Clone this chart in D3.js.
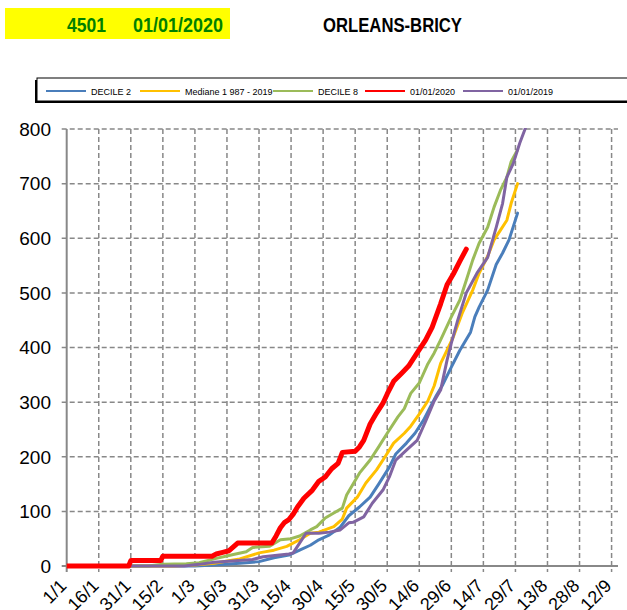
<!DOCTYPE html>
<html>
<head>
<meta charset="utf-8">
<script src="https://cdn.jsdelivr.net/npm/d3@7"></script>
<style>
  body { margin: 0; background: #fff; }
  svg { display: block; font-family: "Liberation Sans", Arial, sans-serif; }
</style>
</head>
<body>
<div id="chart"></div>
<script>
// Station header
var stationId = '4501';
var startDate = '01/01/2020';
var stationName = 'ORLEANS-BRICY';

// X ticks: days since 1/1/2020, every 15 days
var tickDays = [0, 15, 30, 45, 60, 75, 90, 105, 120, 135, 150, 165, 180, 195, 210, 225, 240, 255];
var tickLabels = ['1/1', '16/1', '31/1', '15/2', '1/3', '16/3', '31/3', '15/4', '30/4',
  '15/5', '30/5', '14/6', '29/6', '14/7', '29/7', '13/8', '28/8', '12/9'];
var yTicks = [0, 100, 200, 300, 400, 500, 600, 700, 800];

// Series as [day, cumulative value]
var decile2 = [[0, 0], [60, 0], [69, 2], [81, 5], [90, 8], [97, 15], [104, 20], [109, 29],
  [114, 38], [118, 48], [123, 57], [128, 71], [132, 92], [137, 108], [142, 126], [146, 150],
  [151, 181], [154, 205], [159, 225], [163, 243], [167, 267], [170, 290], [173, 312],
  [176, 332], [180, 364], [184, 395], [189, 428], [191, 456], [193, 474], [197, 505],
  [201, 552], [204, 573], [207, 597], [211, 646]];
var mediane = [[0, 0], [50, 0], [60, 2], [69, 5], [78, 11], [81, 13], [90, 24], [97, 29],
  [103, 36], [109, 48], [114, 60], [118, 62], [125, 72], [129, 86], [131, 106], [136, 126],
  [140, 152], [145, 176], [149, 200], [153, 225], [158, 243], [161, 256], [165, 278],
  [169, 302], [172, 330], [175, 371], [178, 395], [181, 420], [185, 462], [190, 505],
  [193, 536], [197, 567], [200, 597], [203, 615], [206, 633], [208, 664], [211, 700]];
var decile8 = [[0, 0], [38, 0], [45, 3], [56, 4], [62, 6], [69, 13], [78, 21], [84, 26],
  [87, 34], [95, 36], [100, 48], [105, 50], [109, 55], [114, 66], [117, 72], [121, 88],
  [125, 97], [129, 106], [131, 130], [137, 170], [142, 194], [146, 218], [150, 243],
  [155, 273], [158, 288], [161, 316], [165, 335], [169, 370], [172, 390], [175, 414],
  [180, 456], [184, 487], [187, 523], [190, 560], [193, 591], [197, 620], [200, 657],
  [203, 688], [206, 712], [208, 740], [211, 762]];
var year2020 = [[0, 0], [29, 0], [30, 10], [44, 10], [45, 18], [68, 18], [70, 22], [73, 25],
  [76, 28], [78, 35], [80, 42], [96, 42], [98, 55], [100, 70], [102, 80], [104, 85],
  [106, 95], [108, 108], [111, 124], [115, 139], [118, 155], [121, 163], [124, 178],
  [127, 188], [129, 208], [135, 210], [137, 218], [139, 230], [142, 260], [145, 280],
  [148, 298], [150, 315], [153, 338], [157, 354], [160, 366], [164, 390], [168, 414],
  [171, 437], [175, 480], [178, 515], [181, 535], [184, 558], [187, 580]];
var year2019 = [[0, 0], [55, 0], [62, 3], [69, 7], [87, 12], [92, 17], [104, 22], [106, 24],
  [109, 42], [112, 60], [118, 60], [123, 62], [128, 66], [132, 79], [134, 80], [139, 90],
  [143, 115], [148, 139], [151, 163], [154, 194], [159, 212], [164, 230], [168, 265],
  [172, 302], [175, 322], [178, 377], [180, 408], [183, 450], [187, 500], [192, 536],
  [197, 565], [201, 620], [204, 664], [206, 712], [209, 737], [212, 774], [215, 805], [217, 830]];

var series = [
  { name: 'DECILE 2', color: '#4a7ebb', width: 3, data: decile2 },
  { name: 'Mediane 1 987 - 2019', color: '#ffc000', width: 3, data: mediane },
  { name: 'DECILE 8', color: '#9bbb59', width: 3, data: decile8 },
  { name: '01/01/2020', color: '#ff0000', width: 5, data: year2020 },
  { name: '01/01/2019', color: '#8064a2', width: 3, data: year2019 }
];
// drawing order: red on top
var drawOrder = [0, 1, 2, 4, 3];

var width = 627;
var height = 610;
var margin = { top: 129, right: 9, bottom: 44, left: 66.7 };

var svg = d3.select('#chart').append('svg')
  .attr('width', width)
  .attr('height', height);

var x = d3.scaleLinear().domain([0, 258]).range([margin.left, width - margin.right]);
var y = d3.scaleLinear().domain([0, 800]).range([height - margin.bottom, margin.top]);

// Header
svg.append('rect')
  .attr('x', 5).attr('y', 8).attr('width', 225).attr('height', 31)
  .attr('fill', '#ffff00');
svg.append('text')
  .attr('x', 67).attr('y', 31.5)
  .attr('textLength', 39).attr('lengthAdjust', 'spacingAndGlyphs')
  .attr('fill', '#008000').attr('font-weight', 'bold').attr('font-size', 20)
  .text(stationId);
svg.append('text')
  .attr('x', 133).attr('y', 31.5)
  .attr('textLength', 90).attr('lengthAdjust', 'spacingAndGlyphs')
  .attr('fill', '#008000').attr('font-weight', 'bold').attr('font-size', 20)
  .text(startDate);
svg.append('text')
  .attr('x', 323).attr('y', 31.5)
  .attr('textLength', 139).attr('lengthAdjust', 'spacingAndGlyphs')
  .attr('fill', '#000').attr('font-weight', 'bold').attr('font-size', 20)
  .text(stationName);

// Legend box with shadow
var legend = svg.append('g');
legend.append('rect')
  .attr('x', 35).attr('y', 80).attr('width', 600).attr('height', 23)
  .attr('fill', '#000');
legend.append('rect')
  .attr('x', 37).attr('y', 78).attr('width', 600).attr('height', 23)
  .attr('fill', '#fff').attr('stroke', '#000').attr('stroke-width', 1);
var legendX = [46, 140, 273, 365, 463];
series.forEach(function (s, i) {
  legend.append('line')
    .attr('x1', legendX[i]).attr('x2', legendX[i] + 40)
    .attr('y1', 91).attr('y2', 91)
    .attr('stroke', s.color).attr('stroke-width', 2);
  legend.append('text')
    .attr('x', legendX[i] + 45).attr('y', 94.5)
    .attr('font-size', 9).attr('fill', '#000')
    .text(s.name);
});

// Grid
var grid = svg.append('g')
  .attr('stroke', '#888').attr('stroke-width', 1.5).attr('stroke-dasharray', '5,3');
grid.selectAll('.hgrid').data(yTicks.slice(1)).enter().append('line')
  .attr('x1', x(0) - 5).attr('x2', x.range()[1])
  .attr('y1', function (d) { return y(d); })
  .attr('y2', function (d) { return y(d); });
grid.selectAll('.vgrid').data(tickDays.slice(1)).enter().append('line')
  .attr('x1', function (d) { return x(d); })
  .attr('x2', function (d) { return x(d); })
  .attr('y1', y(800)).attr('y2', y(0) + 6);

// Axes lines
svg.append('line')
  .attr('x1', x(0)).attr('x2', x(0)).attr('y1', y(800)).attr('y2', y(0) + 6)
  .attr('stroke', '#888').attr('stroke-width', 2);
svg.append('line')
  .attr('x1', x(0) - 5).attr('x2', x.range()[1]).attr('y1', y(0)).attr('y2', y(0))
  .attr('stroke', '#888').attr('stroke-width', 2);

// Y labels
svg.append('g').selectAll('text').data(yTicks).enter().append('text')
  .attr('x', 51)
  .attr('y', function (d) { return y(d); })
  .attr('dy', '0.36em')
  .attr('text-anchor', 'end')
  .attr('font-size', 19)
  .attr('fill', '#000')
  .text(function (d) { return d; });

// X labels, rotated
svg.append('g').selectAll('text').data(tickDays).enter().append('text')
  .attr('transform', function (d) { return 'translate(' + (x(d) + 1) + ',' + 587 + ') rotate(-45)'; })
  .attr('text-anchor', 'end')
  .attr('font-size', 18)
  .attr('fill', '#000')
  .text(function (d, i) { return tickLabels[i]; });

// Lines
svg.append('clipPath').attr('id', 'plot-clip')
  .append('rect')
  .attr('x', x(0)).attr('y', y(800) - 1)
  .attr('width', x.range()[1] - x(0)).attr('height', y(0) - y(800) + 4);

var line = d3.line()
  .x(function (d) { return x(d[0]); })
  .y(function (d) { return y(d[1]); });

var lines = svg.append('g').attr('clip-path', 'url(#plot-clip)');
drawOrder.forEach(function (i) {
  var s = series[i];
  lines.append('path')
    .datum(s.data)
    .attr('fill', 'none')
    .attr('stroke', s.color)
    .attr('stroke-width', s.width)
    .attr('stroke-linejoin', 'round')
    .attr('stroke-linecap', 'round')
    .attr('d', line);
});
</script>
</body>
</html>
